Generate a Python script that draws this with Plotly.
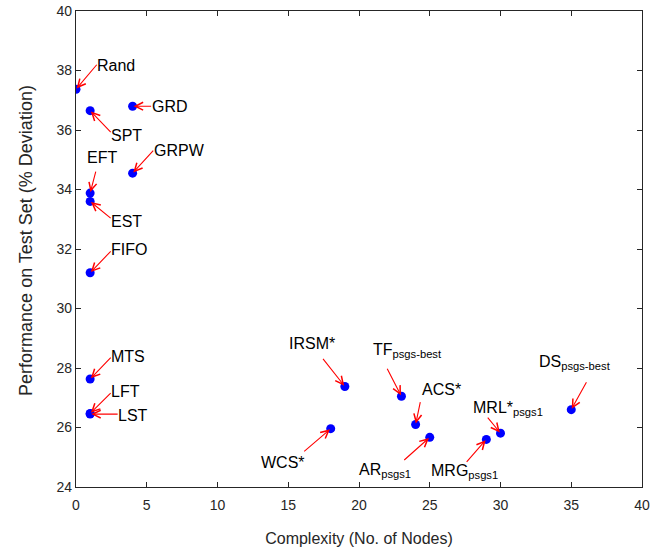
import plotly.graph_objects as go

# ---- data ----
labels = ["Rand", "GRD", "SPT", "GRPW", "EFT", "EST", "FIFO", "MTS", "LFT", "LST",
          "IRSM*", "TF<sub>psgs-best</sub>", "ACS*", "WCS*", "AR<sub>psgs1</sub>",
          "MRG<sub>psgs1</sub>", "MRL*<sub>psgs1</sub>", "DS<sub>psgs-best</sub>"]
complexity = [0, 4, 1, 4, 1, 1, 1, 1, 1, 1, 19, 23, 24, 18, 25, 29, 30, 35]
performance = [37.37, 36.8, 36.65, 34.55, 33.88, 33.6, 31.2, 27.63, 26.47, 26.45,
               27.38, 27.05, 26.1, 25.96, 25.67, 25.6, 25.81, 26.6]
x_ticks = [0, 5, 10, 15, 20, 25, 30, 35, 40]
y_ticks = [24, 26, 28, 30, 32, 34, 36, 38, 40]

# ---- label layout (pixel offsets: arrow tail, text anchor) ----
arrow_off = [(22, -26), (20, 0), (22, 23), (22, -24), (6, -23), (22, 18), (22, -23),
             (22, -23), (22, -22), (29, 0), (-23, -29), (-15, -29), (5, -24),
             (-28, 24), (-27, 24), (-21, 24), (-14, -17), (16, -29)]
text_off = [(19, -24), (17, 0), (19, 25), (19, -23), (-5, -36), (19, 20), (19, -23),
            (19, -23), (19, -22), (26, 1), (-58, -43), (-30, -46), (4, -35),
            (-72, 34), (-73, 33), (-57, 32), (-30, -25), (-34, -47)]

FONT = "Liberation Sans, Arial, Helvetica, sans-serif"
AX = "#262626"

fig = go.Figure()
fig.add_trace(go.Scatter(x=complexity, y=performance, mode="markers",
                         marker=dict(color="#0000ff", size=9), showlegend=False,
                         hoverinfo="skip"))

ann = []
for lab, xv, yv, (ax, ay), (tx, ty) in zip(labels, complexity, performance, arrow_off, text_off):
    ann.append(dict(x=xv, y=yv, xref="x", yref="y", text="", showarrow=True,
                    ax=ax, ay=ay, arrowcolor="#ff0000", arrowwidth=1.1,
                    arrowhead=5, arrowsize=1.4, standoff=1, startstandoff=0))
    ann.append(dict(x=xv, y=yv, xref="x", yref="y", text=lab, showarrow=False,
                    xanchor="left", yanchor="middle", xshift=tx, yshift=-ty,
                    font=dict(family=FONT, size=16, color="#000000")))

# y-axis title as rotated text
ann.append(dict(text="Performance on Test Set (% Deviation)", xref="paper", yref="paper",
                x=0, y=0.517, xanchor="center", yanchor="middle", xshift=-50,
                textangle=-90, showarrow=False, font=dict(family=FONT, size=18, color=AX)))

fig.update_layout(
    width=651, height=549,
    margin=dict(l=76, r=9, t=11, b=62, autoexpand=False),
    paper_bgcolor="white", plot_bgcolor="white",
    font=dict(family=FONT, size=14, color=AX),
    annotations=ann,
    xaxis=dict(range=[0, 40], tickvals=x_ticks, ticks="inside", ticklen=5,
               tickcolor=AX, showline=True, linecolor=AX, linewidth=1.2,
               mirror="ticks", showgrid=False, zeroline=False, automargin=False,
               ticklabelstandoff=5,
               title=dict(text="Complexity (No. of Nodes)", font=dict(size=16, color=AX),
                          standoff=20)),
    yaxis=dict(range=[24, 40], tickvals=y_ticks, ticks="inside", ticklen=5,
               tickcolor=AX, showline=True, linecolor=AX, linewidth=1.2,
               mirror="ticks", showgrid=False, zeroline=False, automargin=False),
)

fig.write_html("out.html", config={"displayModeBar": False},
               post_script="document.body.style.margin='0';document.body.style.overflow='hidden';")
